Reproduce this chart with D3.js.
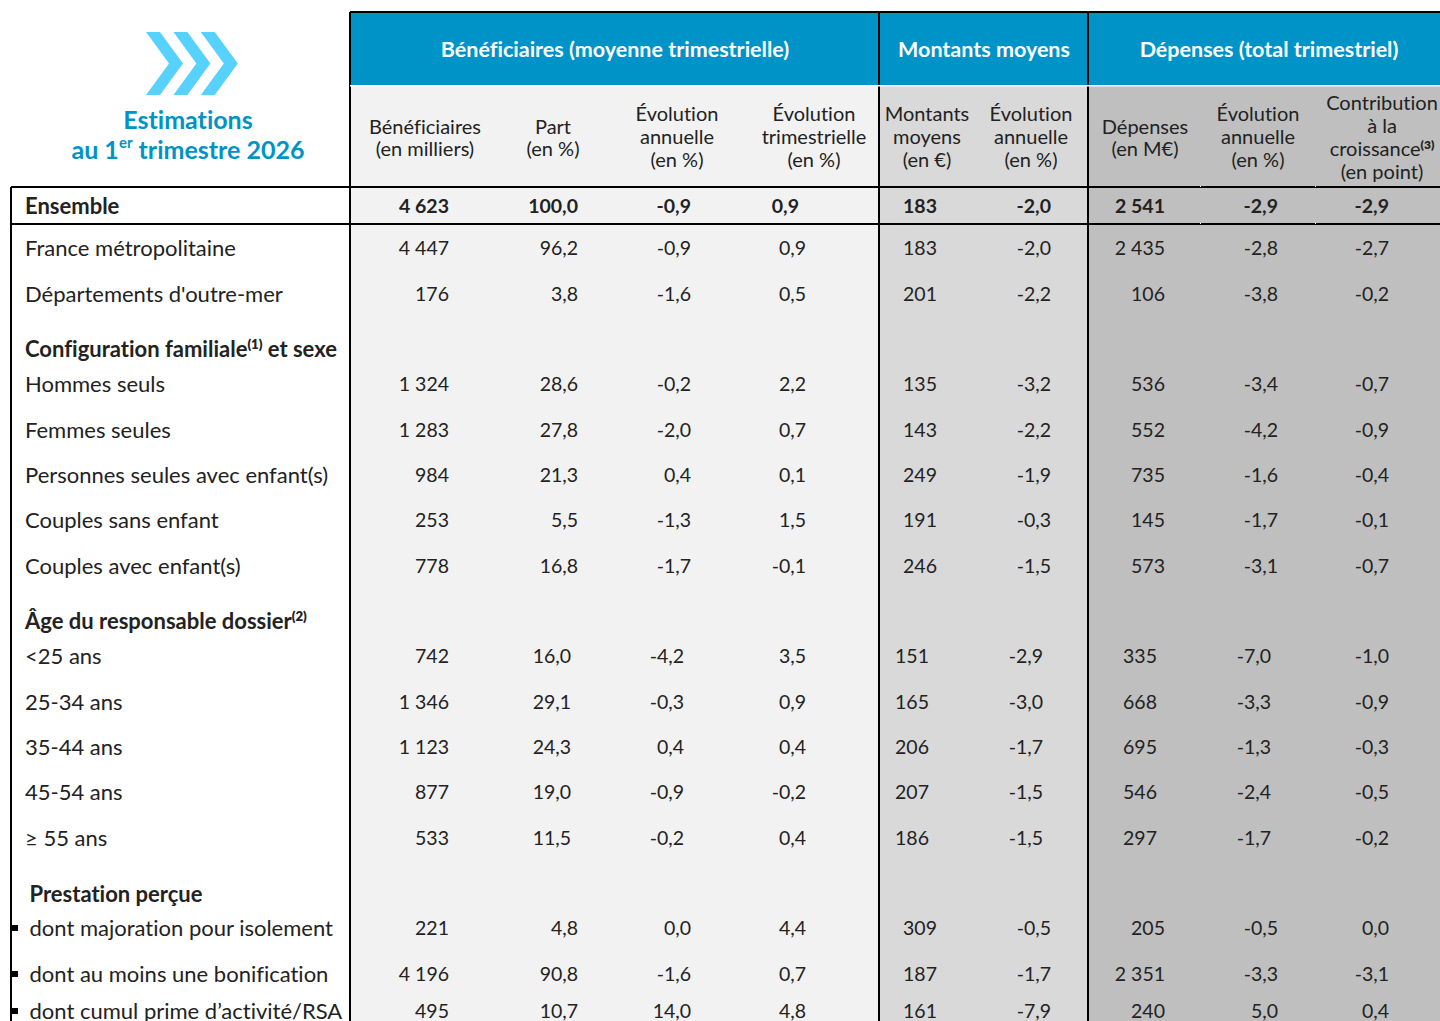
<!DOCTYPE html>
<html lang="fr">
<head>
<meta charset="utf-8">
<script src="https://cdn.jsdelivr.net/npm/d3@7"></script>
<style>
  html, body { margin: 0; padding: 0; background: #fff; overflow: hidden; }
  svg { display: block; }
  text { font-family: Lato, "Open Sans", sans-serif; fill: #222; font-variant-ligatures: none; }
</style>
</head>
<body>
<div id="chart"></div>
<script>
// data
const rowLabels = [
  "Ensemble", "France métropolitaine", "Départements d'outre-mer",
  "Configuration familiale(1) et sexe", "Hommes seuls", "Femmes seules",
  "Personnes seules avec enfant(s)", "Couples sans enfant", "Couples avec enfant(s)",
  "Âge du responsable dossier(2)", "<25 ans", "25-34 ans", "35-44 ans", "45-54 ans", "≥ 55 ans",
  "Prestation perçue", "dont majoration pour isolement", "dont au moins une bonification",
  "dont cumul prime d’activité/RSA"
];
const beneficiaires = ["4 623","4 447","176",null,"1 324","1 283","984","253","778",null,"742","1 346","1 123","877","533",null,"221","4 196","495"];
const part = ["100,0","96,2","3,8",null,"28,6","27,8","21,3","5,5","16,8",null,"16,0","29,1","24,3","19,0","11,5",null,"4,8","90,8","10,7"];
const evolAnnuelle = ["-0,9","-0,9","-1,6",null,"-0,2","-2,0","0,4","-1,3","-1,7",null,"-4,2","-0,3","0,4","-0,9","-0,2",null,"0,0","-1,6","14,0"];
const evolTrim = ["0,9","0,9","0,5",null,"2,2","0,7","0,1","1,5","-0,1",null,"3,5","0,9","0,4","-0,2","0,4",null,"4,4","0,7","4,8"];
const montants = ["183","183","201",null,"135","143","249","191","246",null,"151","165","206","207","186",null,"309","187","161"];
const evolMontants = ["-2,0","-2,0","-2,2",null,"-3,2","-2,2","-1,9","-0,3","-1,5",null,"-2,9","-3,0","-1,7","-1,5","-1,5",null,"-0,5","-1,7","-7,9"];
const depenses = ["2 541","2 435","106",null,"536","552","735","145","573",null,"335","668","695","546","297",null,"205","2 351","240"];
const evolDepenses = ["-2,9","-2,8","-3,8",null,"-3,4","-4,2","-1,6","-1,7","-3,1",null,"-7,0","-3,3","-1,3","-2,4","-1,7",null,"-0,5","-3,3","5,0"];
const contribution = ["-2,9","-2,7","-0,2",null,"-0,7","-0,9","-0,4","-0,1","-0,7",null,"-1,0","-0,9","-0,3","-0,5","-0,2",null,"0,0","-3,1","0,4"];
const columns = [beneficiaires, part, evolAnnuelle, evolTrim, montants, evolMontants, depenses, evolDepenses, contribution];

const groupHeaders = ["Bénéficiaires (moyenne trimestrielle)", "Montants moyens", "Dépenses (total trimestriel)"];
const columnHeaders = [
  ["Bénéficiaires", "(en milliers)"],
  ["Part", "(en %)"],
  ["Évolution", "annuelle", "(en %)"],
  ["Évolution", "trimestrielle", "(en %)"],
  ["Montants", "moyens", "(en €)"],
  ["Évolution", "annuelle", "(en %)"],
  ["Dépenses", "(en M€)"],
  ["Évolution", "annuelle", "(en %)"],
  ["Contribution", "à la", "croissance(3)", "(en point)"]
];
const titleLines = ["Estimations", "au 1er trimestre 2026"];

// layout
const WIDTH = 1440, HEIGHT = 1021;
const BLUE = "#0093c8", CHEVRON = "#57d2ff";
const FONT = 20, VALUE_FONT = 19.5, LABEL_FONT = 22;
const colIdx = d3.range(columns.length);
const rowIdx = d3.range(rowLabels.length);
const rowY = d3.scaleOrdinal()
  .domain(rowIdx)
  .range([205, 247, 293, 348, 383, 429, 474, 519, 565, 620, 655, 701, 746, 791, 837, 893, 927, 973, 1010]);
const colCenter = d3.scaleOrdinal().domain(colIdx)
  .range([425, 553, 677, 814, 927, 1031, 1145, 1258, 1382]);
// right edges of the numbers, they shift a bit by block in the source table
const edgeMain = d3.scaleOrdinal().domain(colIdx).range([449, 578, 691, 806, 937, 1051, 1165, 1278, 1389]);
const edgeAge = d3.scaleOrdinal().domain(colIdx).range([449, 571, 684, 806, 929, 1043, 1157, 1271, 1389]);
const isAge = i => i >= 10 && i <= 14;
const isHead = i => i === 3 || i === 9 || i === 15;
const isBullet = i => i >= 16;

const svg = d3.select("#chart").append("svg")
  .attr("width", WIDTH).attr("height", HEIGHT).attr("viewBox", `0 0 ${WIDTH} ${HEIGHT}`);

// writes a string, (n) and "er" go up as superscript
function rich(sel, str, size) {
  str.split(/(\(\d\)|(?<=1)er)/).forEach((part, i) => {
    if (!part) return;
    const sup = i % 2 === 1;
    const lift = part === "er" || (i > 0 && str.includes("1er")) ? 0.3 : 0.2;
    sel.append("tspan")
      .attr("font-size", sup ? size * 0.6 : size)
      .attr("font-weight", sup && part !== "er" ? 800 : null)
      .attr("dy", sup ? -size * lift : (i > 0 ? size * lift : 0))
      .text(part);
  });
}

// backgrounds
const bands = [[351, 529, "#f2f2f2"], [880, 208, "#d9d9d9"], [1089, 351, "#bfbfbf"]];
svg.append("g").selectAll("rect").data(bands).join("rect")
  .attr("x", d => d[0]).attr("y", 86).attr("width", d => d[1]).attr("height", HEIGHT - 86)
  .attr("fill", d => d[2]);
svg.append("rect").attr("x", 351).attr("y", 13).attr("width", WIDTH - 351).attr("height", 72).attr("fill", BLUE);

// borders
const rules = [
  [350, 12, WIDTH, 12], [11, 187, WIDTH, 187], [11, 224, WIDTH, 224],
  [350, 12, 350, HEIGHT], [879, 12, 879, HEIGHT], [1088, 12, 1088, HEIGHT], [11, 187, 11, HEIGHT]
];
svg.append("g").selectAll("line").data(rules).join("line")
  .attr("x1", d => d[0]).attr("y1", d => d[1]).attr("x2", d => d[2]).attr("y2", d => d[3])
  .attr("stroke", "#000").attr("stroke-width", 2);
svg.append("rect").attr("x", 350).attr("y", 85).attr("width", WIDTH - 350).attr("height", 1.5).attr("fill", "#fff");

// small white nicks in the ensemble borders of the last block
const nicks = [[1200, 186], [1315, 186], [1200, 223], [1315, 223]];
svg.append("g").selectAll("rect").data(nicks).join("rect")
  .attr("x", d => d[0]).attr("y", d => d[1]).attr("width", 1).attr("height", 1).attr("fill", "#fff");

// logo
const chevron = d3.line();
svg.append("g").selectAll("path").data([0, 27.4, 54.8]).join("path")
  .attr("d", dx => chevron([[146 + dx, 32], [160 + dx, 32], [183 + dx, 63.5], [160 + dx, 95], [146 + dx, 95], [169 + dx, 63.5]]) + "Z")
  .attr("fill", CHEVRON);
svg.append("g").selectAll("text").data(titleLines).join("text")
  .attr("x", 188).attr("y", (d, i) => 119 + i * 30)
  .attr("text-anchor", "middle").attr("dominant-baseline", "central")
  .attr("font-weight", 700).style("fill", BLUE)
  .each(function(d) { rich(d3.select(this), d, 25); });

// group headers
svg.append("g").selectAll("text").data(groupHeaders).join("text")
  .attr("x", (d, i) => [615, 984, 1269][i]).attr("y", 49)
  .attr("text-anchor", "middle").attr("dominant-baseline", "central")
  .attr("font-size", 21.5).attr("font-weight", 700).style("fill", "#fff")
  .text(d => d);

// column headers
const headerG = svg.append("g");
columnHeaders.forEach((lines, c) => {
  const step = lines.length === 2 ? 22 : 23;
  const mid = lines.length === 2 ? 137 : lines.length === 3 ? 136 : 136.5;
  lines.forEach((line, i) => {
    headerG.append("text")
      .attr("x", colCenter(c))
      .attr("y", mid + (i - (lines.length - 1) / 2) * step)
      .attr("text-anchor", "middle").attr("dominant-baseline", "central")
      .each(function() { rich(d3.select(this), line, FONT); });
  });
});

// row labels
svg.append("g").selectAll("text").data(rowLabels).join("text")
  .attr("x", (d, i) => i >= 15 ? 29.5 : 25).attr("y", (d, i) => rowY(i))
  .attr("dominant-baseline", "central")
  .attr("font-weight", (d, i) => i === 0 || isHead(i) ? 700 : 400)
  .each(function(d) { rich(d3.select(this), d, LABEL_FONT); });

// bullets
svg.append("g").selectAll("rect").data(rowIdx.filter(isBullet)).join("rect")
  .attr("x", 12).attr("y", d => rowY(d) - 2).attr("width", 6).attr("height", 6).attr("fill", "#000");

// values
columns.forEach((values, c) => {
  svg.append("g").selectAll("text").data(values).join("text")
    .attr("x", (d, i) => {
      if (i === 0 && c === 3) return 799; // the Ensemble 0,9 sits left of the others
      return isAge(i) ? edgeAge(c) : edgeMain(c);
    })
    .attr("y", (d, i) => rowY(i))
    .attr("text-anchor", "end").attr("dominant-baseline", "central")
    .attr("font-size", VALUE_FONT)
    .attr("font-weight", (d, i) => i === 0 ? 700 : 400)
    .text(d => d);
});
</script>
</body>
</html>
